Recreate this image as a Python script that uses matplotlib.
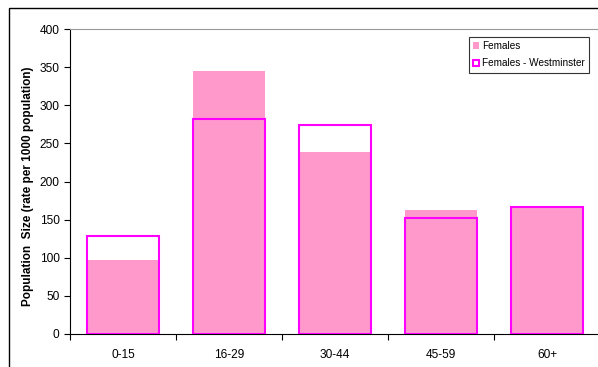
import matplotlib.pyplot as plt
import numpy as np
from matplotlib.patches import Rectangle

plt.rcParams['font.family'] = ['Liberation Sans', 'DejaVu Sans']

age_groups = ['0-15', '16-29', '30-44', '45-59', '60+']
females = [97, 345, 239, 162, 167]
females_westminster = [129, 282, 274, 152, 167]

fig = plt.figure(figsize=(5.98, 3.67), dpi=100)
W, H = 598, 367

# outer chart frame
fig.patches.append(Rectangle((9 / W, -0.05), 1.1, 1 - 8 / H + 0.05,
                             transform=fig.transFigure, fill=False,
                             edgecolor='black', linewidth=1.0))

ax = fig.add_axes([70 / W, 1 - 334 / H, 530 / W, 305 / H])
x = np.arange(len(age_groups))

ax.bar(x, females, width=0.68, color='#FF99CC', label='Females', zorder=2)
ax.bar(x, females_westminster, width=0.68, facecolor='none', edgecolor='#FF00FF',
       linewidth=1.5, label='Females - Westminster', zorder=3)

ax.set_xlim(-0.5, len(age_groups) - 0.5)
ax.set_ylim(0, 400)
ax.set_yticks(range(0, 401, 50))
ax.set_xticks(x)
ax.set_xticklabels(age_groups, fontsize=8.6)
ax.set_xticks(np.arange(-0.5, len(age_groups), 1), minor=True)
ax.tick_params(axis='x', which='major', length=0, pad=11)
ax.tick_params(axis='x', which='minor', length=4, direction='out', width=0.8)
ax.tick_params(axis='y', length=4, direction='out', labelsize=8.6, width=0.8)

ax.spines['top'].set_color('#999999')
ax.spines['top'].set_linewidth(0.8)
ax.spines['right'].set_visible(False)
ax.spines['left'].set_linewidth(0.8)
ax.spines['bottom'].set_linewidth(0.8)

ax.set_ylabel('Population  Size (rate per 1000 population)', fontsize=8.5,
              fontweight='bold', va='center')
ax.yaxis.set_label_coords(-42 / 530, 0.485)

leg = ax.legend(loc='upper right', bbox_to_anchor=(519 / 530, 1 - 8 / 305),
                fontsize=7.2, frameon=True, fancybox=False, edgecolor='black',
                handlelength=0.6, handleheight=0.6, handletextpad=0.3,
                borderpad=0.4, labelspacing=0.75, borderaxespad=0)
leg.get_frame().set_linewidth(0.8)

fig.savefig('out.png', dpi=100)
